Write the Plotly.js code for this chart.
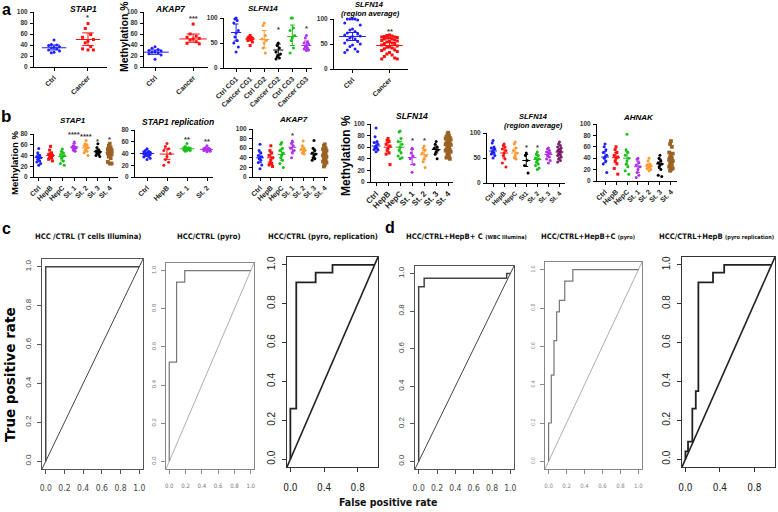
<!DOCTYPE html>
<html><head><meta charset="utf-8">
<script src="https://cdn.plot.ly/plotly-3.0.1.min.js"></script>
<style>html,body{margin:0;padding:0;background:#fff}#chart{width:778px;height:512px}</style>
</head><body><div id="chart"></div>
<script>
// ---------------- DATA ----------------
// Row a
const aSTAP1_cats = ['Ctrl','Cancer'];
const aSTAP1_vals = [[49,41,40,39,37,36,35,33,31,29,27,26],[79,70,59,54,50,47,44,37,33,31,31]];
const aSTAP1_mean = [35,50], aSTAP1_lo = [31,39], aSTAP1_hi = [40,62];
const aSTAP1_stars = [['',0],['*',90]];

const aAKAP7_cats = ['Ctrl','Cancer'];
const aAKAP7_vals = [[37,34,32,30,29,28,27,26,24,22,14],[78,60,56,54,52,51,49,46,43,42]];
const aAKAP7_mean = [27,51], aAKAP7_lo = [23,45], aAKAP7_hi = [31,60];
const aAKAP7_stars = [['',0],['***',88]];

const aSLFN14_cats = ['Ctrl CG1','Cancer CG1','Ctrl CG2','Cancer CG2','Ctrl CG3','Cancer CG3'];
const aSLFN14_vals = [
  [100,98,95,90,75,70,62,55,50,42,32],
  [65,62,61,60,59,58,57,56,55,52,45],
  [90,85,65,58,55,50,40,30],
  [50,45,40,32,28,25,22,20,18],
  [100,100,80,75,65,60,55,40,30],
  [65,60,52,50,48,45,42,40,38,36,35]];
const aSLFN14_mean = [71,58,57,36,63,45], aSLFN14_lo = [54,55,40,26,45,37], aSLFN14_hi = [88,62,75,48,86,54];
const aSLFN14_stars = [['',0],['',0],['',0],['*',78],['',0],['*',80]];

const aSLFN14r_cats = ['Ctrl','Cancer'];
const aSLFN14r_vals = [
  [100,100,100,100,98,92,88,80,78,75,72,70,68,66,65,62,60,58,55,52,50,48,45,40,38,35,33],
  [68,67,66,65,64,64,63,62,62,60,60,58,57,56,55,54,52,50,50,48,46,45,44,42,40,38,37,35,33,30,28,25,22,20,20]];
const aSLFN14r_mean = [65,47], aSLFN14r_lo = [57,42], aSLFN14r_hi = [73,53];
const aSLFN14r_stars = [['',0],['**',76]];

// Row b
const stage7 = ['Ctrl','HepB','HepC','St. 1','St. 2','St. 3','St. 4'];
const bSTAP1_vals = [
  [53,45,40,38,36,35,33,30,28,25,22],
  [57,50,45,42,40,38,37,35,33,30],
  [52,48,45,42,40,37,35,30,25,22],
  [65,58,56,55,54,52,50,48],
  [68,62,60,58,55,53,50,48,45,40],
  [62,55,50,48,46,45,44,42,40,38],
  [62,58,55,52,50,48,46,45,44,42,40,38,35,28,25,25]];
const bSTAP1_mean = [36,40,38,56,54,47,46], bSTAP1_lo = [30,35,30,50,48,42,42], bSTAP1_hi = [42,45,45,62,58,52,50];
const bSTAP1_stars = [['',0],['',0],['',0],['****',80],['****',76],['*',66],['*',70]];

const bSTAP1r_cats = ['Ctrl','HepB','St. 1','St. 2'];
const bSTAP1r_vals = [
  [48,45,44,43,42,41,40,40,39,38,37,36,35,34,32,30],
  [57,52,48,45,40,35,30,25,20],
  [57,52,50,50,49,48,48,47,46,45,45,44],
  [53,50,49,48,47,47,46,46,45,44,43]];
const bSTAP1r_mean = [40,39,48,47], bSTAP1r_lo = [38,30,47,46], bSTAP1r_hi = [42,48,50,49];
const bSTAP1r_stars = [['',0],['',0],['**',64],['**',60]];

const bAKAP7_vals = [
  [68,55,50,45,42,40,38,35,30,25,17],
  [65,55,50,45,40,35,30,28,25,22],
  [72,68,60,55,50,45,40,35,28,20],
  [75,70,65,60,55,50,40],
  [75,65,60,58,55,52,50,48],
  [76,60,55,50,48,45,40,38,35],
  [68,65,60,58,55,52,50,48,45,42,40,38,35,32,30,25,22]];
const bAKAP7_mean = [40,40,47,62,56,48,45], bAKAP7_lo = [30,30,35,52,50,40,38], bAKAP7_hi = [52,52,58,72,62,58,52];
const bAKAP7_stars = [['',0],['',0],['',0],['*',86],['',0],['',0],['',0]];

const bSLFN14_vals = [
  [93,78,70,68,65,62,60,58,56,55,52],
  [75,72,70,65,62,58,55,50,48,30],
  [88,86,75,70,65,60,55,50,45,42,40],
  [58,50,45,40,30,17],
  [62,58,55,50,45,40,35,25],
  [70,65,60,58,55,52,48,40],
  [85,82,80,78,76,75,73,72,70,68,67,66,65,64,62,60,58,56,55,54,52,50,48,45,42,40]];
const bSLFN14_mean = [62,60,60,42,47,56,64], bSLFN14_lo = [57,52,52,30,38,50,60], bSLFN14_hi = [68,68,70,56,54,62,68];
const bSLFN14_stars = [['',0],['',0],['',0],['*',71],['*',71],['',0],['',0]];

const bSLFN14r_cats = ['Ctrl','HepB','HepC','St1','St. 2','St. 3','St. 4'];
const bSLFN14r_vals = [
  [85,80,72,70,68,65,62,60,58,55,50],
  [78,75,72,68,65,60,55,48,40,32],
  [82,78,70,65,60,55,50,48],
  [60,55,45,35,20],
  [62,58,55,50,48,45,42,38,35,30,27],
  [70,68,65,62,60,58,55,52,48,45,40],
  [82,78,75,72,70,68,66,65,64,62,60,58,56,55,52,50,48,45,42]];
const bSLFN14r_mean = [64,60,60,45,47,57,62], bSLFN14r_lo = [58,50,52,33,40,52,58], bSLFN14r_hi = [70,70,70,57,55,62,66];
const bSLFN14r_stars = [['',0],['',0],['',0],['*',71],['*',71],['',0],['',0]];

const bAHNAK_vals = [
  [65,60,55,50,45,42,40,35,30,15],
  [60,55,50,45,42,40,35,30,22,12],
  [82,55,50,45,40,35,30,25,18,12],
  [40,38,32,28,25,20,15,10,6],
  [40,35,30,28,27,26,25,24,22,20,18],
  [45,40,35,32,30,28,25,20,10,8],
  [70,65,60,50,48,45,42,40,38,35,32,30,28,25,22,20,18]];
const bAHNAK_mean = [42,41,40,25,26,30,35], bAHNAK_lo = [32,32,28,15,23,22,30], bAHNAK_hi = [52,50,52,35,30,38,40];

// ROC curves (false positive rate, true positive rate)
const rocC1_fpr = [0,0,1], rocC1_tpr = [0,1,1];
const rocC2_fpr = [0,0,0.09,0.09,0.19,0.19,1], rocC2_tpr = [0,0.52,0.52,0.94,0.94,1,1];
const rocC3_fpr = [0,0,0.07,0.07,0.3,0.3,0.5,0.5,1], rocC3_tpr = [0,0.26,0.26,0.91,0.91,0.96,0.96,1,1];
const rocD1_fpr = [0,0,0.06,0.06,0.96,0.96,1], rocD1_tpr = [0,0.93,0.93,0.975,0.975,1,1];
const rocD2_fpr = [0,0,0.03,0.03,0.06,0.06,0.09,0.09,0.12,0.12,0.18,0.18,0.27,0.27,1], rocD2_tpr = [0,0.2,0.2,0.45,0.45,0.63,0.63,0.78,0.78,0.84,0.84,0.94,0.94,1,1];
const rocD3_fpr = [0,0,0.03,0.03,0.08,0.08,0.12,0.12,0.15,0.15,0.32,0.32,0.45,0.45,1], rocD3_tpr = [0,0.04,0.04,0.09,0.09,0.26,0.26,0.35,0.35,0.91,0.91,0.96,0.96,1,1];
const diagonal = [-0.04,1.04];

// ---------------- BUILD ----------------
const W = 778, H = 512;
const data = [], annotations = [];
const layout = {width:W, height:H, margin:{l:0,r:0,t:0,b:0}, paper_bgcolor:'#fff', plot_bgcolor:'rgba(0,0,0,0)', showlegend:false, annotations};
let axN = 0;
function newAxes(box, xo, yo){
  axN++;
  const xr = axN===1?'x':'x'+axN, yr = axN===1?'y':'y'+axN;
  const xk = axN===1?'xaxis':'xaxis'+axN, yk = axN===1?'yaxis':'yaxis'+axN;
  layout[xk] = Object.assign({domain:[box[0]/W, box[1]/W], anchor:yr, showgrid:false, zeroline:false, fixedrange:true}, xo);
  layout[yk] = Object.assign({domain:[1-box[3]/H, 1-box[2]/H], anchor:xr, showgrid:false, zeroline:false, fixedrange:true}, yo);
  return {x:xr, y:yr};
}
const GP = 'Liberation Sans, Arial, sans-serif';
const C = {blue:'#1f1fff', red:'#ff1010', green:'#18c018', purple:'#b030f0', orange:'#ff9a30', black:'#000000', brown:'#9a6224', maroon:'#7a1f6a'};

function jitter(j, n){
  const k = n > 20 ? 7 : 5;
  const pat = [0,-1,1,-2,2,-3,3];
  const step = n > 20 ? 0.07 : 0.08;
  return pat[j % k] * step;
}

function dotPanel(p){
  const ax = newAxes(p.box,
    {range:p.xr, tickvals:p.cats.map((c,i)=>i), ticktext:p.cats, tickangle:-45, showline:true, linecolor:'#000', linewidth:1,
     ticks:'outside', ticklen:3, tickwidth:1, tickcolor:'#000', tickfont:{family:GP, size:p.xfs||7, color:'#222', weight:'bold'}},
    {range:p.yr, tickvals:p.yt, showline:true, linecolor:'#000', linewidth:1, ticks:'outside', ticklen:3, tickwidth:1, tickcolor:'#000',
     tickfont:{family:GP, size:p.yfs||6.5, color:'#333', weight:'bold'}, ticklabelstandoff:1});
  p.vals.forEach((arr,i)=>{
    const col = p.colors[i];
    data.push({type:'scatter', mode:'markers', xaxis:ax.x, yaxis:ax.y, cliponaxis:false,
      x:arr.map((v,j)=>i+jitter(j,arr.length)), y:arr,
      marker:{color:col, size:p.msize ? p.msize[i] : 3, symbol:p.sym ? p.sym[i] : 'circle', line:{width:0}}, hoverinfo:'skip'});
    const m = p.mean[i], lo = p.lo[i], hi = p.hi[i];
    data.push({type:'scatter', mode:'lines', xaxis:ax.x, yaxis:ax.y, cliponaxis:false,
      x:[i-0.36,i+0.36,null,i,i,null,i-0.17,i+0.17,null,i-0.17,i+0.17],
      y:[m,m,null,lo,hi,null,lo,lo,null,hi,hi], line:{color:col, width:1}, hoverinfo:'skip'});
  });
  (p.stars||[]).forEach((s,i)=>{
    if(!s[0]) return;
    annotations.push({xref:ax.x, yref:ax.y, x:i, y:s[1], text:s[0], showarrow:false, font:{family:GP, size:7.5, color:'#333', weight:'bold'}, yanchor:'middle'});
  });
  return ax;
}
function txt(x,y,text,size,opt){
  annotations.push(Object.assign({xref:'paper', yref:'paper', x:x/W, y:1-y/H, text, showarrow:false, xanchor:'center', yanchor:'middle',
    font:{family:GP, size, color:'#000', weight:'bold'}}, opt||{}));
}

// ----- Row a -----
dotPanel({box:[34,107,12,67], cats:aSTAP1_cats, vals:aSTAP1_vals, mean:aSTAP1_mean, lo:aSTAP1_lo, hi:aSTAP1_hi, stars:aSTAP1_stars,
  colors:[C.blue,C.red], sym:['circle','square'], xr:[-0.59,1.56], yr:[0,100], yt:[0,20,40,60,80,100]});
dotPanel({box:[144,208,12,67], cats:aAKAP7_cats, vals:aAKAP7_vals, mean:aAKAP7_mean, lo:aAKAP7_lo, hi:aAKAP7_hi, stars:aAKAP7_stars,
  colors:[C.blue,C.red], sym:['circle','square'], xr:[-0.29,1.39], yr:[0,100], yt:[0,20,40,60,80,100]});
dotPanel({box:[224,312,18,68], cats:aSLFN14_cats, vals:aSLFN14_vals, mean:aSLFN14_mean, lo:aSLFN14_lo, hi:aSLFN14_hi, stars:aSLFN14_stars,
  colors:[C.blue,C.red,C.orange,C.black,C.green,C.purple], sym:['circle','square','circle','circle','circle','circle'], xr:[-0.86,5.4], yr:[0,100], yt:[0,50,100]});
dotPanel({box:[334,408,19,69], cats:aSLFN14r_cats, vals:aSLFN14r_vals, mean:aSLFN14r_mean, lo:aSLFN14r_lo, hi:aSLFN14r_hi, stars:aSLFN14r_stars,
  colors:[C.blue,C.red], sym:['circle','square'], xr:[-0.5,1.5], yr:[0,100], yt:[0,50,100]});

// ----- Row b -----
const col7 = [C.blue,C.red,C.green,C.purple,C.orange,C.black,C.brown];
const sym7 = ['circle','square','circle','circle','circle','circle','square'];
const ms7 = [3,3,3,3,3,3,3.8];
dotPanel({box:[34,118,134,177], cats:stage7, vals:bSTAP1_vals, mean:bSTAP1_mean, lo:bSTAP1_lo, hi:bSTAP1_hi, stars:bSTAP1_stars,
  colors:col7, sym:sym7, msize:ms7, xr:[-0.4,6.7], yr:[0,80], yt:[0,20,40,60,80]});
dotPanel({box:[135,213,130,177], cats:bSTAP1r_cats, vals:bSTAP1r_vals, mean:bSTAP1r_mean, lo:bSTAP1r_lo, hi:bSTAP1r_hi, stars:bSTAP1r_stars,
  colors:[C.blue,C.red,C.green,C.purple], xr:[-0.6,3.3], yr:[0,80], yt:[0,20,40,60,80]});
dotPanel({box:[253,328,129,177], cats:stage7, vals:bAKAP7_vals, mean:bAKAP7_mean, lo:bAKAP7_lo, hi:bAKAP7_hi, stars:bAKAP7_stars,
  colors:col7, sym:sym7, msize:ms7, xr:[-0.65,6.3], yr:[0,100], yt:[0,20,40,60,80,100]});
dotPanel({box:[371,453,124,182], cats:stage7, vals:bSLFN14_vals, mean:bSLFN14_mean, lo:bSLFN14_lo, hi:bSLFN14_hi, stars:bSLFN14_stars,
  colors:col7, sym:sym7, msize:ms7, xr:[-0.42,6.4], yr:[0,100], yt:[0,20,40,60,80,100], xfs:8});
dotPanel({box:[487,565,133,183], cats:bSLFN14r_cats, vals:bSLFN14r_vals, mean:bSLFN14r_mean, lo:bSLFN14r_lo, hi:bSLFN14r_hi, stars:bSLFN14r_stars,
  colors:[C.blue,C.red,C.orange,C.black,C.green,C.purple,C.maroon], xr:[-0.55,6.5], yr:[0,100], yt:[0,50,100], xfs:6.5});
dotPanel({box:[597,677,124,181], cats:stage7, vals:bAHNAK_vals, mean:bAHNAK_mean, lo:bAHNAK_lo, hi:bAHNAK_hi,
  colors:col7, sym:sym7, msize:ms7, xr:[-0.73,6.55], yr:[0,100], yt:[0,20,40,60,80,100]});

// ----- ROC panels -----
const NR = 'Liberation Sans Narrow, DejaVu Sans Condensed, Liberation Sans, sans-serif';
function rocPanel(p){
  const ax = newAxes(p.box,
    {range:p.xr||[-0.04,1.04], tickvals:p.xt, ticktext:p.xt.map(v=>v.toFixed(1)), showline:true, mirror:true, linecolor:p.box_c, linewidth:1,
     ticks:'outside', ticklen:4, tickcolor:p.box_c, tickfont:{family:p.ff||NR, size:p.fs, color:p.tc}, ticklabelstandoff:p.xso||7},
    {range:p.yr||[-0.04,1.04], tickvals:p.yt, ticktext:p.yt.map(v=>v.toFixed(1)), tickangle:-90, showline:true, mirror:true, linecolor:p.box_c, linewidth:1,
     ticks:'outside', ticklen:4, tickcolor:p.box_c, tickfont:{family:p.ffy||GP, size:p.fsy, color:p.tc}, ticklabelstandoff:p.yso||3});
  data.push({type:'scatter', mode:'lines', xaxis:ax.x, yaxis:ax.y, x:diagonal, y:diagonal, line:{color:p.dc, width:p.dw}, hoverinfo:'skip'});
  data.push({type:'scatter', mode:'lines', xaxis:ax.x, yaxis:ax.y, x:p.fpr, y:p.tpr, line:{color:p.lc, width:p.lw, shape:'linear'}, hoverinfo:'skip'});
}
const t6 = [0,0.2,0.4,0.6,0.8,1.0], t3 = [0,0.4,0.8];
rocPanel({box:[42,143,259,469], fpr:rocC1_fpr, tpr:rocC1_tpr, xt:t6, yt:t6, fs:8.5, fsy:8, tc:'#444', box_c:'#555', lc:'#444', lw:1.5, dc:'#444', dw:1});
rocPanel({box:[166,254,263,469], fpr:rocC2_fpr, tpr:rocC2_tpr, xt:t6, yt:t6, fs:6, fsy:6, tc:'#777', box_c:'#888', lc:'#777', lw:1.2, dc:'#999', dw:0.8});
rocPanel({box:[287,378,257,467], fpr:rocC3_fpr, tpr:rocC3_tpr, xt:t3, yt:t6, fs:10, fsy:10, tc:'#222', box_c:'#333', lc:'#222', lw:1.8, dc:'#222', dw:1.6});
rocPanel({box:[415,514,266,469], fpr:rocD1_fpr, tpr:rocD1_tpr, xt:t6, yt:t6, fs:8.5, fsy:8, tc:'#444', box_c:'#555', lc:'#444', lw:1.5, dc:'#444', dw:1});
rocPanel({box:[545,642,262,469], fpr:rocD2_fpr, tpr:rocD2_tpr, xt:t6, yt:t6, fs:6, fsy:5, tc:'#888', box_c:'#888', lc:'#777', lw:1.2, dc:'#999', dw:0.8});
rocPanel({box:[682,775,257,467], fpr:rocD3_fpr, tpr:rocD3_tpr, xt:t3, yt:t6, fs:10, fsy:10, tc:'#222', box_c:'#333', lc:'#222', lw:1.8, dc:'#222', dw:1.6});

// ----- Text -----
const TI = {family:GP, size:8.5, color:'#000', weight:'bold', style:'italic'};
txt(6,9,'a',16); txt(6,116,'b',17); txt(6,228,'c',16); txt(390,227,'d',16);
txt(83,9,'STAP1',8.5,{font:TI}); txt(170,9,'AKAP7',8.5,{font:TI}); txt(263,8,'SLFN14',8,{font:Object.assign({},TI,{size:8})});
txt(369,4,'SLFN14',7.5,{font:Object.assign({},TI,{size:7.5})}); txt(370,13,'(region average)',7.5,{font:Object.assign({},TI,{size:7.5})});
txt(124,37,'Methylation %',10.5,{textangle:-90});
txt(73,120,'STAP1',8,{font:Object.assign({},TI,{size:8})});
txt(178,122,'STAP1 replication',8.5,{font:TI});
txt(293,119,'AKAP7',8,{font:Object.assign({},TI,{size:8})});
txt(412,116,'SLFN14',8.5,{font:TI});
txt(533,116,'SLFN14',7.5,{font:Object.assign({},TI,{size:7.5})}); txt(533,125,'(region average)',7.5,{font:Object.assign({},TI,{size:7.5})});
txt(638,117,'AHNAK',8,{font:Object.assign({},TI,{size:8})});
txt(14,163,'Methylation %',9.5,{textangle:-90});
txt(346,156,'Methylation %',12,{textangle:-90});
const TR = {family:NR, size:7.6, color:'#111', weight:'bold'};
txt(88,236,'HCC /CTRL (T cells Illumina)',7.6,{font:TR});
txt(209,236,'HCC/CTRL (pyro)',7.6,{font:TR});
txt(323,236,'HCC/CTRL (pyro, replication)',7.6,{font:TR});
txt(466,236,'HCC/CTRL+HepB+ C <span style="font-size:5.5px">(WBC Illumina)</span>',7.6,{font:TR});
txt(588,236,'HCC/CTRL+HepB+C <span style="font-size:5.5px">(pyro)</span>',7.6,{font:TR});
txt(776,236,'HCC/CTRL+HepB <span style="font-size:5.5px">(pyro replication)</span>',7.6,{font:TR, xanchor:'right'});
txt(10,375,'True positive rate',13.5,{textangle:-90, font:{family:'DejaVu Sans, sans-serif', size:13.5, color:'#000', weight:'bold'}});
txt(388,502,'False positive rate',10.5,{font:{family:NR, size:10.5, color:'#111', weight:'bold'}});

Plotly.newPlot('chart', data, layout, {staticPlot:true, displayModeBar:false});
</script></body></html>
